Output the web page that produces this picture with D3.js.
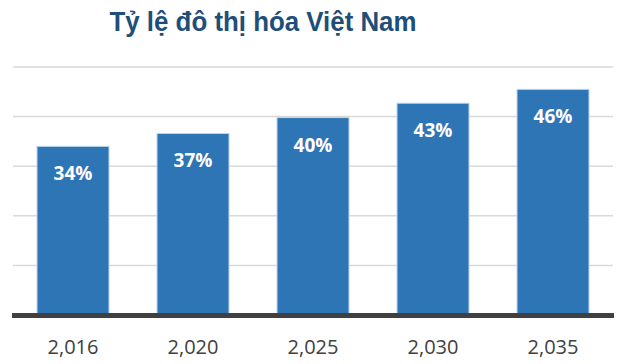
<!DOCTYPE html>
<html><head><meta charset="utf-8">
<script src="https://cdn.jsdelivr.net/npm/d3@7"></script>
<style>body{margin:0;background:#fff}</style>
</head><body>
<script>
const title = "Tỷ lệ đô thị hóa Việt Nam";
const years = ["2,016", "2,020", "2,025", "2,030", "2,035"];
const values = [34.0, 36.6, 39.8, 42.7, 45.5];
const yTicks = [0, 10, 20, 30, 40, 50];

const W = 621, H = 364;
const svg = d3.select("body").append("svg").attr("width", W).attr("height", H);

const x = d3.scaleBand().domain(years).range([13, 613]).paddingInner(0.4).paddingOuter(0.2);
const y = d3.scaleLinear().domain([0, 50]).range([315, 67]);

svg.append("text").attr("x", 263).attr("y", 31).attr("text-anchor", "middle")
  .style("font-family", "Liberation Sans, Arial, sans-serif").style("font-weight", "bold")
  .style("font-size", "28px").attr("textLength", 307).attr("lengthAdjust", "spacingAndGlyphs")
  .attr("fill", "#1F4E79").text(title);

svg.append("g").selectAll("line").data(yTicks.filter(d => d > 0)).join("line")
  .attr("x1", 13).attr("x2", 613).attr("y1", d => y(d)).attr("y2", d => y(d))
  .attr("stroke", "#d9d9d9").attr("stroke-width", 1.5);

svg.append("g").selectAll("rect").data(values).join("rect")
  .attr("x", (d, i) => x(years[i])).attr("width", x.bandwidth())
  .attr("y", d => y(d)).attr("height", d => y(0) - y(d))
  .attr("fill", "#2E75B6").attr("stroke", "#BDD7EE").attr("stroke-width", 1);

svg.append("g").selectAll("text").data(values).join("text")
  .attr("x", (d, i) => x(years[i]) + x.bandwidth() / 2).attr("y", d => y(d) + 34)
  .attr("text-anchor", "middle").style("font-family", "Open Sans, sans-serif")
  .style("font-weight", "bold").style("font-size", "19px").attr("fill", "#fff")
  .text(d => Math.round(d) + "%");

svg.append("line").attr("x1", 12).attr("x2", 614).attr("y1", y(0) + 0.5).attr("y2", y(0) + 0.5)
  .attr("stroke", "#404040").attr("stroke-width", 5);

const xAxis = d3.axisBottom(x).tickSize(0).tickPadding(0);
const gx = svg.append("g").attr("transform", "translate(0,340)").call(xAxis);
gx.select(".domain").remove();
gx.selectAll("text").attr("dy", "0.35em").attr("y", 7).style("font-family", "Open Sans, sans-serif")
  .style("font-size", "20px").attr("fill", "#404040");
</script>
</body></html>
